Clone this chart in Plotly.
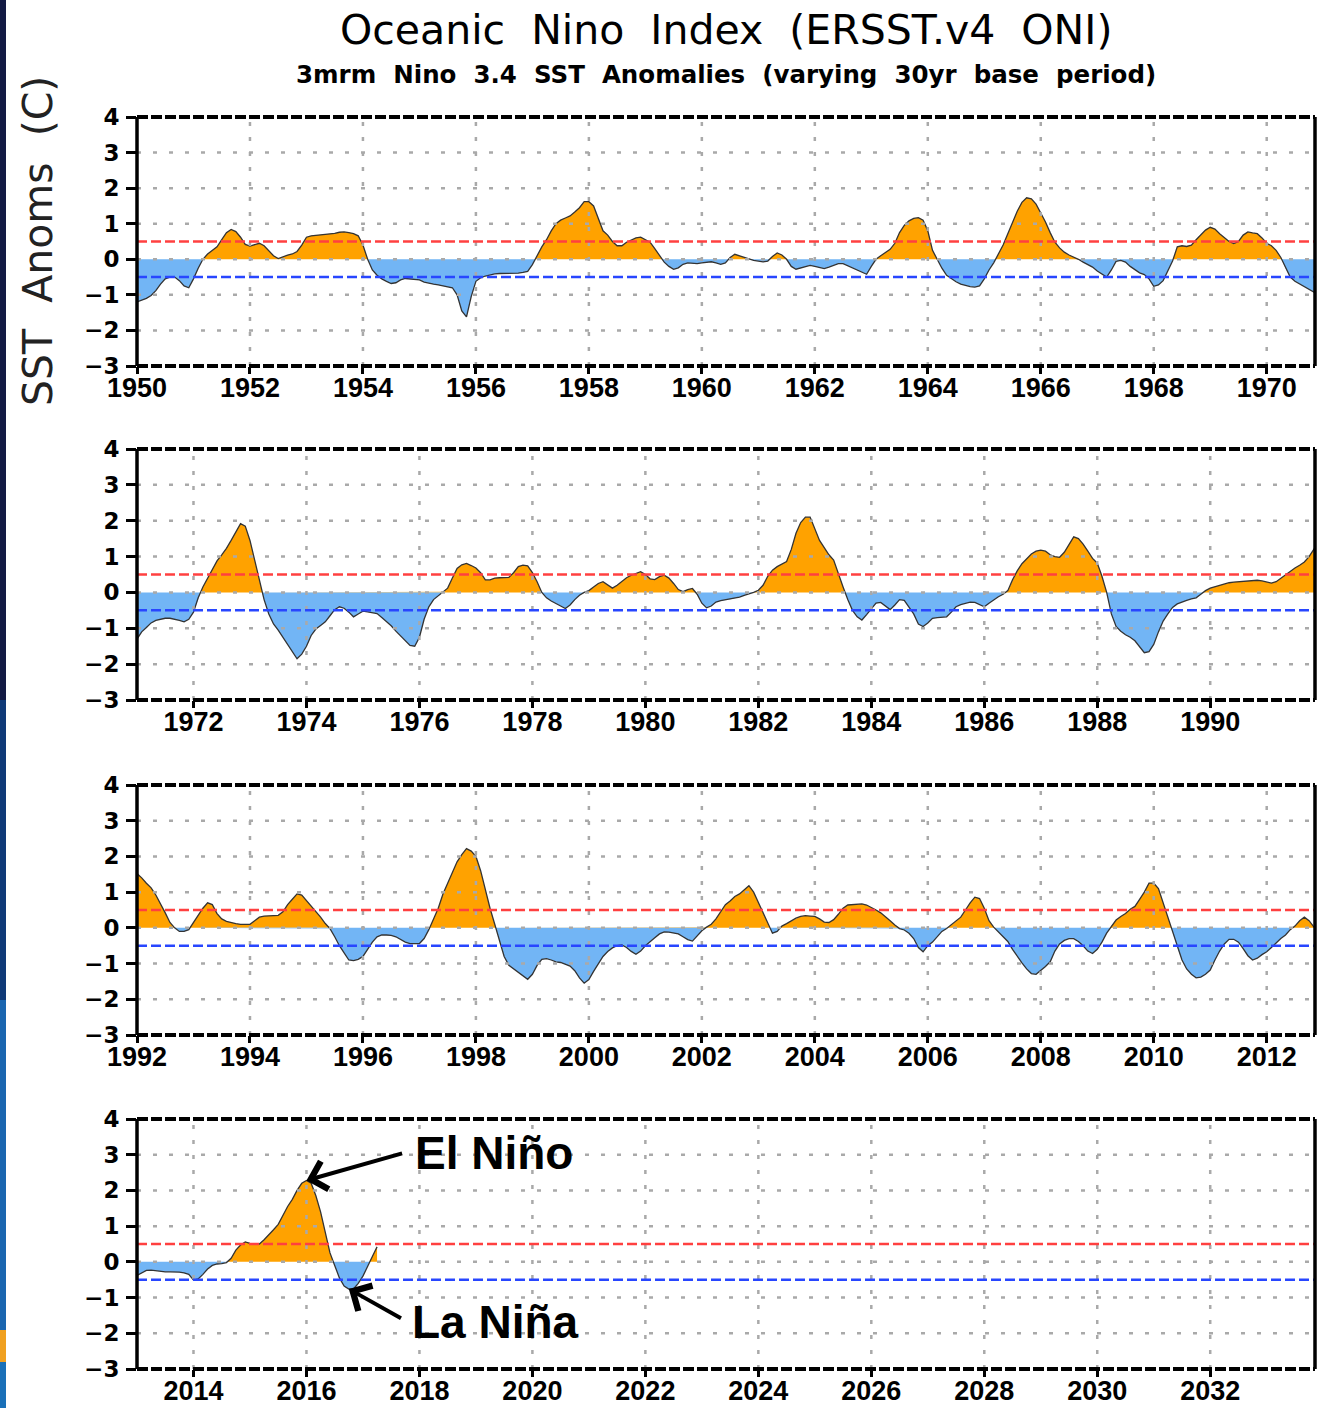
import numpy as np
import plotly.graph_objects as go

W, H = 1320, 1408

# ---------------- data (3-month running mean Nino 3.4 anomalies, monthly steps) ----------------
panel_start_years = [1950, 1971, 1992, 2013]

oni_1950_1970 = [
    -1.20, -1.15, -1.10, -1.02, -0.88, -0.70, -0.55, -0.50, -0.50, -0.60, -0.75, -0.80,  # 1950
    -0.55, -0.25, 0.00, 0.15, 0.25, 0.35, 0.55, 0.75, 0.84, 0.78, 0.62, 0.42,  # 1951
    0.37, 0.42, 0.45, 0.38, 0.25, 0.10, 0.02, 0.08, 0.12, 0.15, 0.22, 0.40,  # 1952
    0.62, 0.66, 0.67, 0.69, 0.70, 0.72, 0.73, 0.76, 0.77, 0.75, 0.72, 0.66,  # 1953
    0.40, 0.00, -0.30, -0.45, -0.55, -0.62, -0.68, -0.66, -0.58, -0.54, -0.55, -0.57,  # 1954
    -0.58, -0.64, -0.68, -0.70, -0.72, -0.74, -0.76, -0.80, -1.00, -1.45, -1.62, -1.05,  # 1955
    -0.62, -0.52, -0.47, -0.43, -0.41, -0.40, -0.40, -0.40, -0.40, -0.39, -0.37, -0.34,  # 1956
    -0.15, 0.10, 0.35, 0.55, 0.80, 1.00, 1.10, 1.16, 1.22, 1.33, 1.45, 1.62,  # 1957
    1.62, 1.50, 1.15, 0.80, 0.68, 0.50, 0.38, 0.38, 0.48, 0.55, 0.60, 0.62,  # 1958
    0.55, 0.48, 0.30, 0.10, -0.08, -0.20, -0.28, -0.24, -0.14, -0.10, -0.11, -0.12,  # 1959
    -0.10, -0.08, -0.07, -0.10, -0.14, -0.10, 0.05, 0.14, 0.10, 0.04, 0.00, -0.03,  # 1960
    -0.05, -0.07, -0.05, 0.08, 0.18, 0.12, 0.00, -0.20, -0.28, -0.25, -0.20, -0.17,  # 1961
    -0.20, -0.24, -0.26, -0.22, -0.16, -0.12, -0.12, -0.18, -0.25, -0.32, -0.38, -0.42,  # 1962
    -0.20, 0.00, 0.10, 0.20, 0.28, 0.45, 0.75, 0.95, 1.08, 1.15, 1.17, 1.10,  # 1963
    0.80, 0.25, 0.00, -0.25, -0.45, -0.55, -0.63, -0.70, -0.74, -0.77, -0.78, -0.75,  # 1964
    -0.55, -0.30, -0.10, 0.15, 0.40, 0.72, 1.05, 1.35, 1.60, 1.73, 1.70, 1.55,  # 1965
    1.30, 1.05, 0.75, 0.48, 0.32, 0.20, 0.12, 0.07, 0.00, -0.08, -0.15, -0.22,  # 1966
    -0.33, -0.42, -0.50, -0.30, -0.06, -0.03, -0.08, -0.20, -0.30, -0.38, -0.43, -0.55,  # 1967
    -0.76, -0.72, -0.60, -0.30, -0.05, 0.35, 0.38, 0.36, 0.40, 0.55, 0.70, 0.82,  # 1968
    0.90, 0.85, 0.72, 0.60, 0.50, 0.44, 0.50, 0.68, 0.77, 0.74, 0.72, 0.60,  # 1969
    0.45, 0.38, 0.25, 0.05, -0.25, -0.50, -0.62, -0.70, -0.78, -0.86, -0.92, -1.00,  # 1970
]

oni_1971_1991 = [
    -1.30, -1.10, -0.98, -0.85, -0.78, -0.74, -0.72, -0.72, -0.74, -0.78, -0.82, -0.75,  # 1971
    -0.55, -0.15, 0.15, 0.38, 0.62, 0.88, 1.05, 1.23, 1.45, 1.68, 1.92, 1.85,  # 1972
    1.45, 0.90, 0.35, -0.20, -0.60, -0.88, -1.05, -1.25, -1.45, -1.65, -1.85, -1.72,  # 1973
    -1.50, -1.20, -1.02, -0.92, -0.82, -0.65, -0.48, -0.40, -0.44, -0.55, -0.68, -0.60,  # 1974
    -0.52, -0.54, -0.56, -0.59, -0.70, -0.82, -0.93, -1.08, -1.22, -1.35, -1.48, -1.50,  # 1975
    -1.25, -0.75, -0.40, -0.20, -0.10, 0.02, 0.12, 0.40, 0.67, 0.77, 0.81, 0.75,  # 1976
    0.68, 0.55, 0.35, 0.35, 0.40, 0.41, 0.41, 0.42, 0.55, 0.72, 0.76, 0.74,  # 1977
    0.55, 0.30, 0.00, -0.15, -0.24, -0.30, -0.38, -0.45, -0.35, -0.20, -0.08, 0.00,  # 1978
    0.05, 0.15, 0.25, 0.30, 0.20, 0.12, 0.20, 0.30, 0.41, 0.48, 0.54, 0.58,  # 1979
    0.50, 0.38, 0.36, 0.44, 0.48, 0.40, 0.25, 0.08, 0.02, 0.08, 0.11, -0.05,  # 1980
    -0.30, -0.43, -0.38, -0.27, -0.23, -0.21, -0.19, -0.17, -0.13, -0.08, -0.05, 0.00,  # 1981
    0.06, 0.20, 0.45, 0.62, 0.72, 0.80, 0.86, 1.20, 1.65, 1.95, 2.10, 2.10,  # 1982
    1.75, 1.45, 1.25, 1.05, 0.90, 0.50, 0.15, -0.20, -0.50, -0.68, -0.77, -0.62,  # 1983
    -0.45, -0.30, -0.28, -0.38, -0.48, -0.35, -0.20, -0.22, -0.40, -0.60, -0.88, -0.95,  # 1984
    -0.85, -0.72, -0.70, -0.69, -0.68, -0.55, -0.40, -0.34, -0.30, -0.27, -0.28, -0.35,  # 1985
    -0.40, -0.30, -0.20, -0.12, -0.05, 0.05, 0.35, 0.60, 0.80, 0.95, 1.07, 1.15,  # 1986
    1.18, 1.15, 1.05, 1.00, 0.98, 1.12, 1.35, 1.55, 1.50, 1.35, 1.15, 0.95,  # 1987
    0.82, 0.45, 0.00, -0.60, -0.95, -1.08, -1.18, -1.25, -1.35, -1.50, -1.68, -1.65,  # 1988
    -1.45, -1.10, -0.80, -0.60, -0.42, -0.32, -0.26, -0.22, -0.18, -0.15, -0.05, 0.05,  # 1989
    0.12, 0.16, 0.20, 0.24, 0.27, 0.29, 0.30, 0.31, 0.32, 0.33, 0.34, 0.32,  # 1990
    0.30, 0.26, 0.30, 0.40, 0.50, 0.60, 0.68, 0.76, 0.85, 1.00, 1.20, 1.40,  # 1991
]

oni_1992_2012 = [
    1.52, 1.40, 1.25, 1.12, 0.92, 0.68, 0.42, 0.15, 0.00, -0.10, -0.10, -0.05,  # 1992
    0.15, 0.35, 0.55, 0.70, 0.65, 0.40, 0.25, 0.18, 0.14, 0.12, 0.10, 0.09,  # 1993
    0.10, 0.20, 0.30, 0.33, 0.34, 0.35, 0.35, 0.45, 0.65, 0.80, 0.95, 0.92,  # 1994
    0.77, 0.60, 0.45, 0.30, 0.12, -0.02, -0.25, -0.50, -0.70, -0.90, -0.92, -0.88,  # 1995
    -0.80, -0.60, -0.40, -0.25, -0.20, -0.20, -0.21, -0.25, -0.32, -0.40, -0.44, -0.45,  # 1996
    -0.44, -0.30, -0.05, 0.25, 0.55, 0.95, 1.25, 1.60, 1.85, 2.05, 2.22, 2.15,  # 1997
    2.00, 1.60, 1.05, 0.55, 0.10, -0.35, -0.80, -1.05, -1.15, -1.25, -1.35, -1.44,  # 1998
    -1.30, -1.05, -0.88, -0.86, -0.90, -0.95, -0.97, -1.02, -1.07, -1.20, -1.40, -1.55,  # 1999
    -1.45, -1.22, -1.00, -0.80, -0.66, -0.56, -0.50, -0.48, -0.55, -0.66, -0.74, -0.65,  # 2000
    -0.50, -0.40, -0.28, -0.17, -0.11, -0.12, -0.15, -0.17, -0.25, -0.33, -0.37, -0.22,  # 2001
    -0.08, 0.02, 0.10, 0.25, 0.45, 0.65, 0.75, 0.88, 0.95, 1.08, 1.18, 1.00,  # 2002
    0.70, 0.45, 0.10, -0.15, -0.10, 0.05, 0.12, 0.20, 0.27, 0.32, 0.34, 0.33,  # 2003
    0.32, 0.25, 0.16, 0.15, 0.23, 0.38, 0.55, 0.64, 0.65, 0.66, 0.67, 0.64,  # 2004
    0.58, 0.50, 0.42, 0.32, 0.20, 0.08, -0.02, -0.06, -0.15, -0.30, -0.55, -0.67,  # 2005
    -0.50, -0.40, -0.25, -0.10, -0.02, 0.08, 0.20, 0.30, 0.50, 0.70, 0.86, 0.82,  # 2006
    0.55, 0.20, 0.02, -0.12, -0.25, -0.38, -0.60, -0.80, -0.98, -1.15, -1.28, -1.30,  # 2007
    -1.20, -1.08, -0.95, -0.65, -0.45, -0.35, -0.30, -0.30, -0.38, -0.50, -0.65, -0.72,  # 2008
    -0.60, -0.40, -0.15, 0.05, 0.22, 0.32, 0.40, 0.52, 0.60, 0.80, 1.00, 1.25,  # 2009
    1.25, 1.10, 0.70, 0.30, -0.10, -0.55, -0.90, -1.15, -1.30, -1.40, -1.38, -1.30,  # 2010
    -1.18, -0.90, -0.65, -0.45, -0.32, -0.32, -0.40, -0.58, -0.78, -0.90, -0.85, -0.75,  # 2011
    -0.67, -0.55, -0.42, -0.30, -0.20, -0.05, 0.05, 0.20, 0.30, 0.20, 0.03, -0.05,  # 2012
]

oni_2013_2017 = [
    -0.38, -0.30, -0.24, -0.23, -0.25, -0.27, -0.28, -0.28, -0.28, -0.29, -0.31, -0.35,  # 2013
    -0.51, -0.48, -0.35, -0.20, -0.10, -0.06, -0.05, -0.02, 0.10, 0.33, 0.47, 0.56,  # 2014
    0.52, 0.50, 0.50, 0.62, 0.75, 0.90, 1.05, 1.30, 1.55, 1.75, 2.00, 2.20,  # 2015
    2.28, 2.20, 1.85, 1.40, 0.85, 0.25, -0.10, -0.45, -0.68, -0.76, -0.76, -0.60,  # 2016
    -0.40, -0.10, 0.15, 0.42,  # 2017
]

el_nino_threshold = 0.5
la_nina_threshold = -0.5
y_tick_values = [-3, -2, -1, 0, 1, 2, 3, 4]
y_min, y_max = -3, 4
years_per_panel = 20.855

title_text = "Oceanic\u00a0 Nino\u00a0 Index\u00a0 (ERSST.v4\u00a0 ONI)"
subtitle_text = "3mrm\u00a0 Nino\u00a0 3.4\u00a0 SST\u00a0 Anomalies\u00a0 (varying\u00a0 30yr\u00a0 base\u00a0 period)"
ytitle_text = "SST\u00a0 Anoms\u00a0 (C)"

# ---------------- styling ----------------
ORANGE = "#FFA200"
BLUE = "#72B5F5"
RED_LINE = "#FF4040"
BLUE_LINE = "#2846FF"
GRID = "#A9A9A9"

panel_px = [(117, 366), (449, 700), (785, 1035), (1119, 1369)]
plot_left, plot_right = 137, 1315


def with_crossings(t, v):
    tt, vv = [t[0]], [v[0]]
    for i in range(1, len(t)):
        a, b = v[i - 1], v[i]
        if a * b < 0:
            tc = t[i - 1] + (t[i] - t[i - 1]) * a / (a - b)
            tt.append(tc)
            vv.append(0.0)
        tt.append(t[i])
        vv.append(b)
    return np.array(tt), np.array(vv)


fig = go.Figure()
series = [oni_1950_1970, oni_1971_1991, oni_1992_2012, oni_2013_2017]
shapes = []
layout_axes = {}

for i, (y0, vals) in enumerate(zip(panel_start_years, series)):
    xr = "x" if i == 0 else f"x{i+1}"
    yr = "y" if i == 0 else f"y{i+1}"
    v = np.array(vals, dtype=float)
    t = y0 + np.arange(len(v)) / 12.0
    tt, vv = with_crossings(t, v)
    fig.add_trace(go.Scatter(x=tt, y=np.maximum(vv, 0), mode="lines", fill="tozeroy",
                             fillcolor=ORANGE, line=dict(width=0, color="rgba(0,0,0,0)"),
                             xaxis=xr, yaxis=yr, hoverinfo="skip", showlegend=False))
    fig.add_trace(go.Scatter(x=tt, y=np.minimum(vv, 0), mode="lines", fill="tozeroy",
                             fillcolor=BLUE, line=dict(width=0, color="rgba(0,0,0,0)"),
                             xaxis=xr, yaxis=yr, hoverinfo="skip", showlegend=False))
    fig.add_trace(go.Scatter(x=t, y=v, mode="lines", line=dict(width=1.3, color="#333333"),
                             xaxis=xr, yaxis=yr, hoverinfo="skip", showlegend=False))

    first_tick = y0 if y0 % 2 == 0 else y0 + 1
    xticks = list(range(first_tick, y0 + 21, 2))
    top, bot = panel_px[i]
    xname = "xaxis" if i == 0 else f"xaxis{i+1}"
    yname = "yaxis" if i == 0 else f"yaxis{i+1}"
    layout_axes[xname] = dict(
        domain=[plot_left / W, plot_right / W], range=[y0, y0 + years_per_panel],
        anchor=yr, tickmode="array", tickvals=xticks, tickformat="d",
        ticks="outside", ticklen=7, tickwidth=3, tickcolor="black", ticklabelstandoff=-9,
        showgrid=False, zeroline=False, showline=False, automargin=False,
        tickfont=dict(family="Liberation Sans", size=27, color="black", weight="bold"),
    )
    layout_axes[yname] = dict(
        domain=[1 - bot / H, 1 - top / H], range=[y_min, y_max], anchor=xr,
        tickmode="array", tickvals=y_tick_values,
        ticks="outside", ticklen=10, tickwidth=3, tickcolor="black", ticklabelstandoff=2,
        showgrid=False, zeroline=False, showline=False, automargin=False,
        tickfont=dict(family="DejaVu Sans", size=23, color="black", weight="bold"),
    )

    # dotted grid (drawn above the fills, as in the original)
    for yv in y_tick_values:
        if y_min < yv < y_max:
            shapes.append(dict(type="line", xref=f"{xr} domain", yref=yr, x0=0, x1=1, y0=yv, y1=yv,
                               line=dict(color=GRID, width=2.5, dash="4px,12px"), layer="above"))
    for xv in xticks:
        if y0 < xv < y0 + years_per_panel:
            shapes.append(dict(type="line", xref=xr, yref=f"{yr} domain", x0=xv, x1=xv, y0=0, y1=1,
                               line=dict(color=GRID, width=2.5, dash="4px,11px"), layer="above"))
    # threshold lines
    shapes.append(dict(type="line", xref=f"{xr} domain", yref=yr, x0=0, x1=1,
                       y0=el_nino_threshold, y1=el_nino_threshold,
                       line=dict(color=RED_LINE, width=2.5, dash="10px,4px"), layer="above"))
    shapes.append(dict(type="line", xref=f"{xr} domain", yref=yr, x0=0, x1=1,
                       y0=la_nina_threshold, y1=la_nina_threshold,
                       line=dict(color=BLUE_LINE, width=2.5, dash="10px,4px"), layer="above"))
    # frame: dashed top/bottom, solid left/right
    for yy in (0, 1):
        shapes.append(dict(type="line", xref=f"{xr} domain", yref=f"{yr} domain", x0=0, x1=1, y0=yy, y1=yy,
                           line=dict(color="black", width=4, dash="11px,3px"), layer="above"))
    for xx in (0, 1):
        shapes.append(dict(type="line", xref=f"{xr} domain", yref=f"{yr} domain", x0=xx, x1=xx, y0=0, y1=1,
                           line=dict(color="black", width=3.5), layer="above"))

# left edge strip of the slide background
strip = [(0, 700, "#131a44"), (700, 1000, "#0f3a78"), (1000, 1330, "#1a66b0"),
         (1330, 1362, "#f0a020"), (1362, 1408, "#1a70b8")]
for y_a, y_b, col in strip:
    shapes.append(dict(type="rect", xref="paper", yref="paper", x0=0, x1=6 / W,
                       y0=1 - y_b / H, y1=1 - y_a / H, fillcolor=col, line=dict(width=0), layer="above"))

# annotations
v4 = np.array(oni_2013_2017)
t4 = panel_start_years[3] + np.arange(len(v4)) / 12.0
imax, imin = int(np.argmax(v4)), int(np.argmin(v4))
annotations = [
    dict(text=title_text, xref="paper", yref="paper", x=(plot_left + plot_right) / 2 / W, y=1 - 30 / H,
         showarrow=False, font=dict(family="DejaVu Sans", size=41, color="black"), xanchor="center", yanchor="middle"),
    dict(text=subtitle_text, xref="paper", yref="paper", x=(plot_left + plot_right) / 2 / W, y=1 - 75 / H,
         showarrow=False, font=dict(family="DejaVu Sans", size=24.5, color="black", weight="bold"),
         xanchor="center", yanchor="middle"),
    dict(text=ytitle_text, xref="paper", yref="paper", x=38 / W, y=1 - 241 / H, textangle=-90,
         showarrow=False, font=dict(family="DejaVu Sans", size=41, color="#222222"), xanchor="center", yanchor="middle"),
    dict(text="", x=t4[imax], y=v4[imax], xref="x4", yref="y4", axref="x4", ayref="y4",
         ax=2017.72, ay=3.05, showarrow=True, arrowhead=4, arrowsize=1.4, arrowwidth=4, arrowcolor="black"),
    dict(text="<b>El Niño</b>", x=2017.88, y=3.05, xref="x4", yref="y4", showarrow=False,
         xanchor="left", yanchor="middle", font=dict(family="Liberation Sans", size=46, color="black")),
    dict(text="", x=t4[imin], y=v4[imin], xref="x4", yref="y4", axref="x4", ayref="y4",
         ax=2017.70, ay=-1.6, showarrow=True, arrowhead=4, arrowsize=1.4, arrowwidth=4, arrowcolor="black"),
    dict(text="<b>La Niña</b>", x=2017.84, y=-1.68, xref="x4", yref="y4", showarrow=False,
         xanchor="left", yanchor="middle", font=dict(family="Liberation Sans", size=46, color="black")),
]

fig.update_layout(
    width=W, height=H, margin=dict(l=0, r=0, t=0, b=0, pad=0, autoexpand=False),
    paper_bgcolor="white", plot_bgcolor="white",
    shapes=shapes, annotations=annotations, showlegend=False,
    **layout_axes,
)

# remove the browser's default page margin so the figure sits at the window's top-left corner
fig.write_html("out.html", config={"displayModeBar": False},
               post_script="document.body.style.margin='0px';document.body.style.overflow='hidden';")
